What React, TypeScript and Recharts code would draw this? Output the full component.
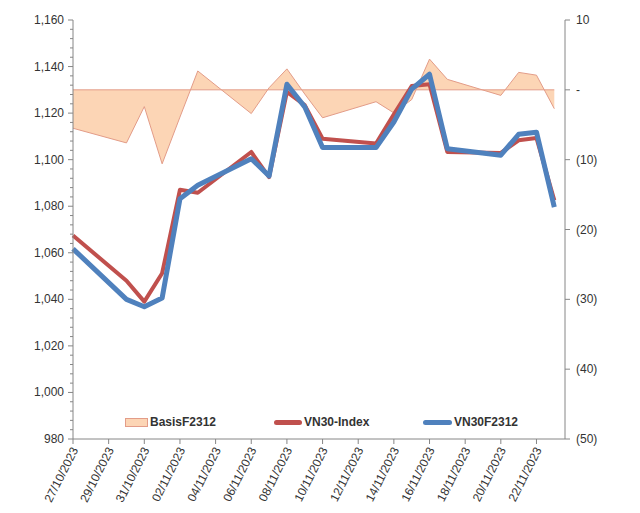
import { ComposedChart, Line, Area, XAxis, YAxis, Legend, ReferenceLine } from "recharts";

// trading days
const dates = [
  "27/10/2023", "30/10/2023", "31/10/2023", "01/11/2023", "02/11/2023", "03/11/2023",
  "06/11/2023", "07/11/2023", "08/11/2023", "09/11/2023", "10/11/2023", "13/11/2023",
  "14/11/2023", "15/11/2023", "16/11/2023", "17/11/2023", "20/11/2023", "21/11/2023",
  "22/11/2023", "23/11/2023",
];
const vn30Index = [
  1067.4, 1048.0, 1039.0, 1051.2, 1087.1, 1085.8, 1103.3, 1092.5, 1129.1, 1123.4,
  1109.0, 1106.9, 1119.5, 1131.6, 1132.4, 1103.3, 1102.9, 1108.3, 1109.3, 1082.5,
];
const vn30F2312 = [
  1061.7, 1040.0, 1036.8, 1040.6, 1083.2, 1089.0, 1100.4, 1093.0, 1132.4, 1122.7,
  1105.2, 1105.2, 1116.2, 1130.3, 1136.7, 1104.7, 1101.9, 1110.9, 1111.8, 1079.6,
];
const basisF2312 = [
  -5.5, -7.6, -2.4, -10.6, -3.9, 2.7, -3.4, 0.3, 3.0, -0.6,
  -4.0, -1.7, -3.3, -1.4, 4.4, 1.5, -0.8, 2.5, 2.1, -2.7,
];
const xTickLabels = [
  "27/10/2023", "29/10/2023", "31/10/2023", "02/11/2023", "04/11/2023", "06/11/2023",
  "08/11/2023", "10/11/2023", "12/11/2023", "14/11/2023", "16/11/2023", "18/11/2023",
  "20/11/2023", "22/11/2023",
];
const leftTicks = Array.from({ length: 46 }, (_, i) => 980 + i * 4);
const rightTicks = [10, 0, -10, -20, -30, -40, -50];

const AXIS = "#868686";
const TEXT = "#333";
const FONT = "'Liberation Sans', Arial, sans-serif";
const RED = "#C0504D";
const BLUE = "#4F81BD";
const BASIS_FILL = "#FCD5B5";
const BASIS_LINE = "#E39C88";

const toMs = (s: string) => {
  const [d, m, y] = s.split("/").map(Number);
  return Date.UTC(y, m - 1, d);
};
const t0 = toMs(dates[0]);
const dayOf = (s: string) => Math.round((toMs(s) - t0) / 86400000);

const data = dates.map((d, i) => ({
  day: dayOf(d),
  vn30: vn30Index[i],
  vn30f: vn30F2312[i],
  basis: basisF2312[i],
}));
const xTicks = xTickLabels.map(dayOf);
const lastDay = data[data.length - 1].day;

const LeftTick = ({ x, y, payload }: any) => {
  const major = payload.value % 20 === 0;
  return (
    <g>
      <line x1={x - (major ? 5 : 3)} y1={y} x2={x} y2={y} stroke={AXIS} />
      {major && (
        <text x={x - 9} y={y} dy={4} textAnchor="end" fontSize={12} fontFamily={FONT} fill={TEXT}>
          {payload.value.toLocaleString("en-US")}
        </text>
      )}
    </g>
  );
};

const RightTick = ({ x, y, payload }: any) => {
  const v = payload.value;
  const label = v === 0 ? "-" : v < 0 ? `(${-v})` : `${v}`;
  return (
    <g>
      <line x1={x} y1={y} x2={x + 5} y2={y} stroke={AXIS} />
      <text x={x + 11} y={y} dy={4} textAnchor="start" fontSize={12} fontFamily={FONT} fill={TEXT}>
        {label}
      </text>
    </g>
  );
};

const BottomTick = ({ x, y, payload }: any) => {
  const label = xTickLabels[xTicks.indexOf(payload.value)];
  const tx = x + 2;
  const ty = y + 9;
  return (
    <g>
      <line x1={x} y1={y} x2={x} y2={y + 5} stroke={AXIS} />
      <text
        x={tx}
        y={ty}
        transform={`rotate(-63 ${tx} ${ty})`}
        textAnchor="end"
        dy={4}
        fontSize={12}
        fontFamily={FONT}
        fill={TEXT}
      >
        {label}
      </text>
    </g>
  );
};

const LegendContent = () => {
  const item = (swatch: React.ReactNode, name: string) => (
    <div style={{ width: 149, display: "flex", alignItems: "center" }}>
      {swatch}
      <span style={{ fontWeight: "bold", fontSize: 12, fontFamily: FONT, color: TEXT, marginLeft: 2 }}>{name}</span>
    </div>
  );
  return (
    <div style={{ display: "flex", paddingLeft: 125 }}>
      {item(
        <div style={{ width: 21, height: 7, background: BASIS_FILL, border: `1px solid ${BASIS_LINE}` }} />,
        "BasisF2312"
      )}
      {item(<div style={{ width: 28, height: 5, borderRadius: 3, background: RED }} />, "VN30-Index")}
      {item(<div style={{ width: 29, height: 5, borderRadius: 3, background: BLUE }} />, "VN30F2312")}
    </div>
  );
};

export default function App() {
  return (
    <div style={{ position: "absolute", left: 0, top: 0, width: 640, height: 513, background: "#fff" }}>
      <ComposedChart width={640} height={513} data={data} margin={{ top: 20, right: 0, bottom: 0, left: 0 }}>
        <XAxis
          dataKey="day"
          type="number"
          domain={[0, 27.6]}
          ticks={xTicks}
          interval={0}
          height={74}
          stroke={AXIS}
          tickSize={0}
          tickMargin={0}
          tick={<BottomTick />}
        />
        <YAxis
          yAxisId="left"
          orientation="left"
          domain={[980, 1160]}
          ticks={leftTicks}
          interval={0}
          width={73}
          stroke={AXIS}
          tickSize={0}
          tickMargin={0}
          tick={<LeftTick />}
        />
        <YAxis
          yAxisId="right"
          orientation="right"
          domain={[-50, 10]}
          ticks={rightTicks}
          interval={0}
          width={75}
          stroke={AXIS}
          tickSize={0}
          tickMargin={0}
          tick={<RightTick />}
        />
        <Area
          yAxisId="right"
          dataKey="basis"
          type="linear"
          baseValue={0}
          fill={BASIS_FILL}
          fillOpacity={1}
          stroke={BASIS_LINE}
          strokeWidth={1}
          isAnimationActive={false}
        />
        <ReferenceLine
          yAxisId="right"
          segment={[{ x: 0, y: 0 }, { x: lastDay, y: 0 }]}
          stroke={BASIS_LINE}
          strokeWidth={1}
        />
        <Line
          yAxisId="left"
          dataKey="vn30"
          type="linear"
          stroke={RED}
          strokeWidth={4}
          strokeLinejoin="round"
          dot={false}
          activeDot={false}
          isAnimationActive={false}
        />
        <Line
          yAxisId="left"
          dataKey="vn30f"
          type="linear"
          stroke={BLUE}
          strokeWidth={5}
          strokeLinejoin="round"
          dot={false}
          activeDot={false}
          isAnimationActive={false}
        />
        <Legend
          layout="horizontal"
          verticalAlign="middle"
          align="center"
          content={<LegendContent />}
          wrapperStyle={{ position: "absolute", top: 415, left: 0, width: 640, height: 16 }}
        />
      </ComposedChart>
    </div>
  );
}
